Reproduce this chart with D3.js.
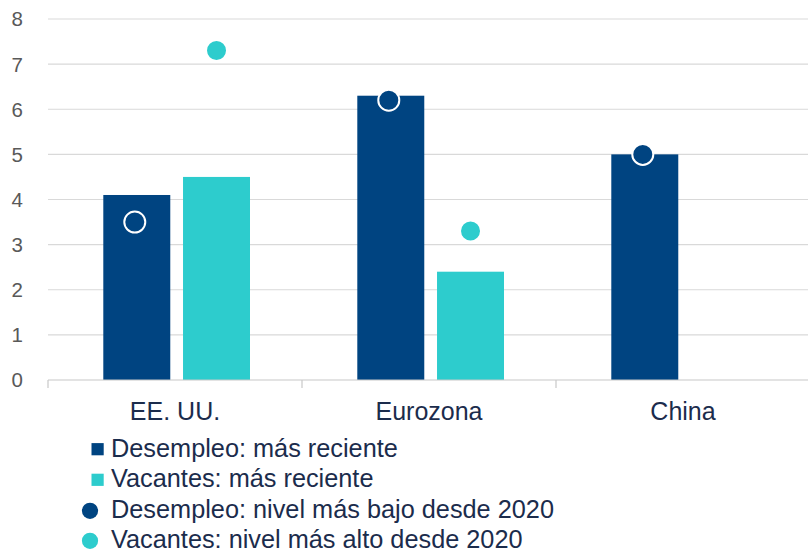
<!DOCTYPE html>
<html>
<head>
<meta charset="utf-8">
<script src="https://cdn.jsdelivr.net/npm/d3@7"></script>
<style>
  html, body { margin: 0; padding: 0; background: #ffffff; }
  svg { display: block; font-family: "Liberation Sans", Arial, sans-serif; }
</style>
</head>
<body>
<svg id="chart" width="808" height="552"></svg>
<script>
// ---- Data ----
const categories = ["EE. UU.", "Eurozona", "China"];
const desempleoReciente = [4.1, 6.3, 5.0];
const vacantesReciente = [4.5, 2.4, null];
const desempleoMinimo = [3.5, 6.2, 5.0];
const vacantesMaximo = [7.3, 3.3, null];
const yTicks = [0, 1, 2, 3, 4, 5, 6, 7, 8];
const seriesKeys = ["desempleo", "vacantes"];
const legendLabels = [
  "Desempleo: más reciente",
  "Vacantes: más reciente",
  "Desempleo: nivel más bajo desde 2020",
  "Vacantes: nivel más alto desde 2020"
];

// ---- Styles ----
const cDark = "#004481";
const cTeal = "#2dcccd";
const textNavy = "#1b2c4c";
const axisGray = "#595959";

const svg = d3.select("#chart");

const x = d3.scaleBand().domain(categories).range([48, 810]).paddingInner(0).paddingOuter(0);
const xSub = d3.scaleBand().domain(seriesKeys).range([55.3, 202]).paddingInner(0.16).paddingOuter(0);
const y = d3.scaleLinear().domain([0, 8]).range([380, 19]);

// gridlines
svg.append("g").selectAll("line").data(yTicks.filter(d => d > 0)).join("line")
  .attr("x1", 48).attr("x2", 808)
  .attr("y1", d => y(d)).attr("y2", d => y(d))
  .attr("stroke", "#d9d9d9").attr("stroke-width", 1.2);

// y labels
svg.append("g").selectAll("text").data(yTicks).join("text")
  .attr("x", 23).attr("y", d => y(d))
  .attr("dy", "0.36em")
  .attr("text-anchor", "end")
  .attr("font-size", 20.5)
  .attr("fill", axisGray)
  .text(d => d);

// bars
const rows = categories.map((c, i) => ({
  cat: c,
  desempleo: desempleoReciente[i],
  vacantes: vacantesReciente[i],
  dMin: desempleoMinimo[i],
  vMax: vacantesMaximo[i]
}));

const barData = [];
rows.forEach(r => {
  seriesKeys.forEach(k => {
    if (r[k] != null) barData.push({cat: r.cat, key: k, value: r[k]});
  });
});

svg.append("g").selectAll("rect").data(barData).join("rect")
  .attr("x", d => x(d.cat) + xSub(d.key))
  .attr("width", xSub.bandwidth())
  .attr("y", d => y(d.value))
  .attr("height", d => y(0) - y(d.value))
  .attr("fill", d => d.key === "desempleo" ? cDark : cTeal);

// baseline + ticks
svg.append("line")
  .attr("x1", 48).attr("x2", 808).attr("y1", y(0)).attr("y2", y(0))
  .attr("stroke", "#c8c8c8").attr("stroke-width", 1.2);
const tickPos = categories.map(c => x(c));
svg.append("g").selectAll("line").data(tickPos).join("line")
  .attr("x1", d => d).attr("x2", d => d)
  .attr("y1", y(0)).attr("y2", y(0) + 8)
  .attr("stroke", "#c8c8c8").attr("stroke-width", 1.2);

// markers
const markerData = [];
rows.forEach(r => {
  if (r.dMin != null) markerData.push({cat: r.cat, key: "desempleo", value: r.dMin});
  if (r.vMax != null) markerData.push({cat: r.cat, key: "vacantes", value: r.vMax});
});
svg.append("g").selectAll("circle").data(markerData).join("circle")
  .attr("cx", d => x(d.cat) + xSub(d.key) + xSub.bandwidth() / 2 - (d.key === "desempleo" ? 2 : 0))
  .attr("cy", d => y(d.value))
  .attr("r", 10.5)
  .attr("fill", d => d.key === "desempleo" ? cDark : cTeal)
  .attr("stroke", "#ffffff")
  .attr("stroke-width", 2);

// x labels
svg.append("g").selectAll("text").data(categories).join("text")
  .attr("x", d => x(d) + x.bandwidth() / 2)
  .attr("y", 420)
  .attr("text-anchor", "middle")
  .attr("font-size", 25)
  .attr("fill", textNavy)
  .text(d => d);

// legend
const legendBase = [456.7, 487.3, 518.3, 548.3];
const lg = svg.append("g");
legendLabels.forEach((lab, i) => {
  const cy = legendBase[i] - 7.5;
  const col = (i % 2 === 0) ? cDark : cTeal;
  if (i < 2) {
    lg.append("rect").attr("x", 91.5).attr("y", cy - 6.1).attr("width", 12.2).attr("height", 12.2).attr("fill", col);
  } else {
    lg.append("circle").attr("cx", 90).attr("cy", cy).attr("r", 8.1).attr("fill", col);
  }
  lg.append("text")
    .attr("x", 111).attr("y", legendBase[i])
    .attr("font-size", 25.3)
    .attr("fill", textNavy)
    .text(lab);
});
</script>
</body>
</html>
